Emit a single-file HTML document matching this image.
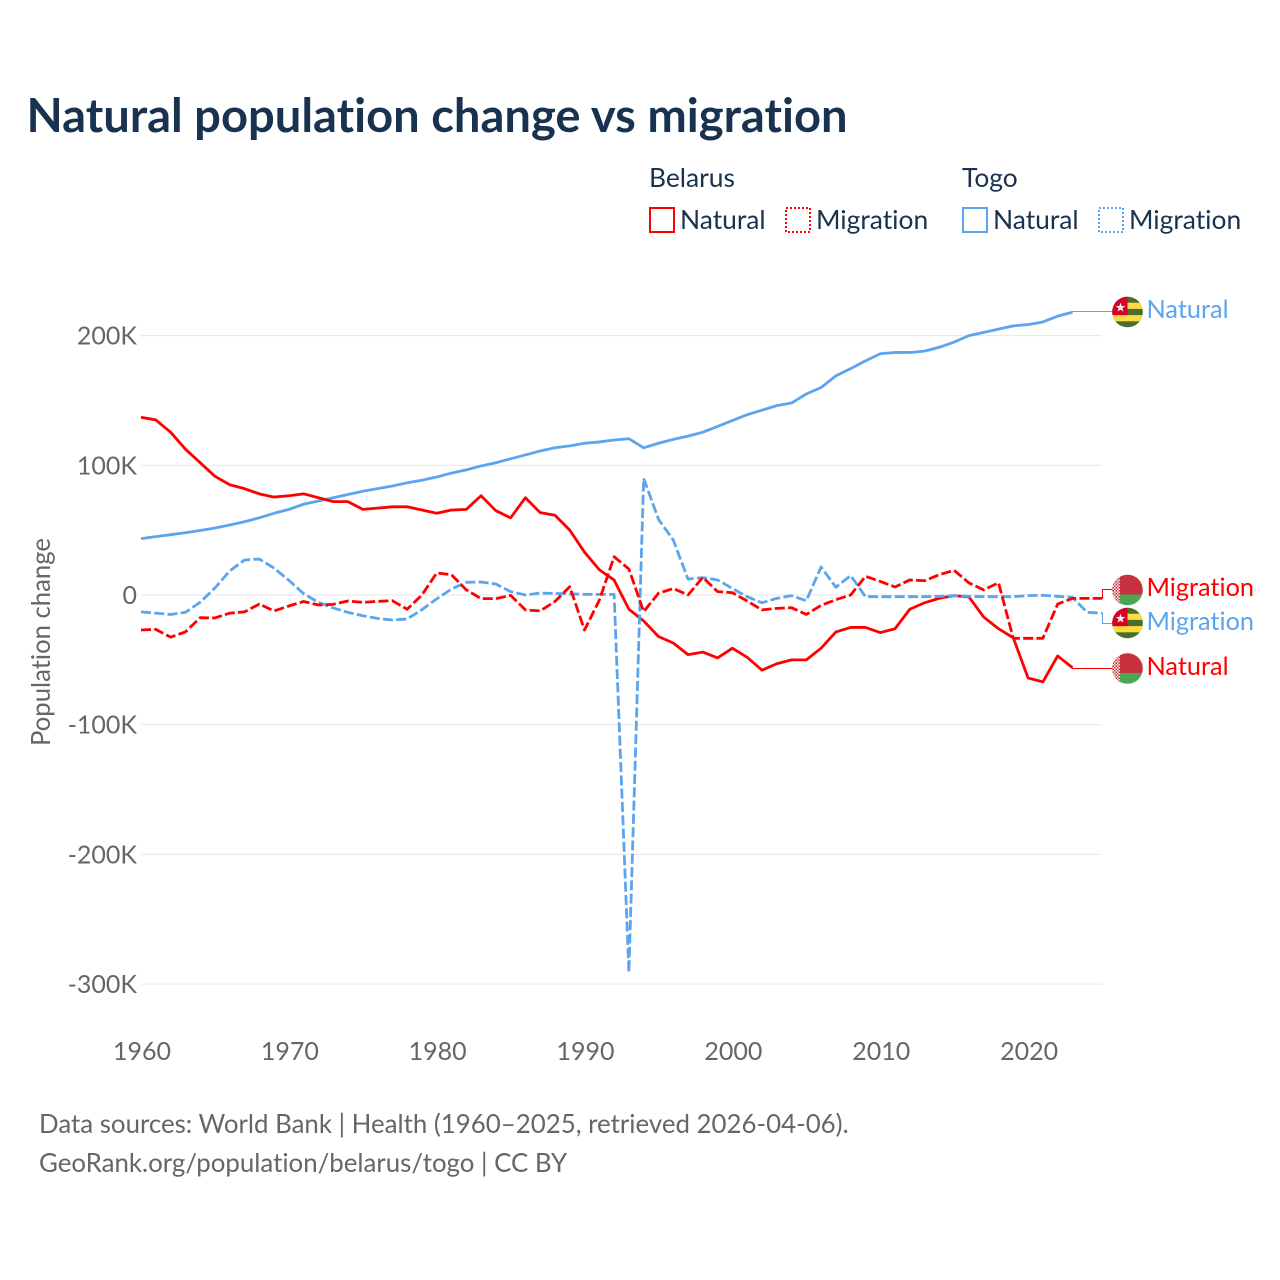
<!DOCTYPE html>
<html lang="en">
<head>
<meta charset="utf-8">
<title>Natural population change vs migration</title>
<style>
html,body{margin:0;padding:0;background:#fff;width:1280px;height:1280px;overflow:hidden}
svg{display:block}
text{font-family:"Lato","Liberation Sans",sans-serif;font-variant-ligatures:none;font-feature-settings:"liga" 0,"clig" 0}
</style>
</head>
<body>
<svg id="chart" xmlns="http://www.w3.org/2000/svg" width="1280" height="1280" viewBox="0 0 1280 1280">
<defs>
<clipPath id="flag-clip"><circle cx="0" cy="0" r="15.3"/></clipPath>
<pattern id="ornament" width="3" height="3" patternUnits="userSpaceOnUse">
<rect width="3" height="3" fill="#f3dfe0"/>
<rect x="0" y="0" width="1.5" height="1.5" fill="#c7313d"/>
<rect x="1.5" y="1.5" width="1.5" height="1.5" fill="#d5636c"/>
</pattern>
<g id="flag-belarus">
<g clip-path="url(#flag-clip)">
<rect x="-16" y="-16" width="32" height="20.5" fill="#c7313d"/>
<rect x="-16" y="4.5" width="32" height="11.5" fill="#4ca657"/>
<rect x="-16" y="-16" width="8.5" height="32" fill="url(#ornament)"/>
</g>
</g>
<g id="flag-togo">
<g clip-path="url(#flag-clip)">
<rect x="-16" y="-16" width="32" height="32" fill="#496e2d"/>
<rect x="-16" y="-9.3" width="32" height="6.2" fill="#ffda44"/>
<rect x="-16" y="3.1" width="32" height="6.2" fill="#ffda44"/>
<rect x="-16" y="-16" width="16" height="19.1" fill="#d80027"/>
<polygon points="-7,-9.5 -5.8,-6 -2.2,-6 -5.1,-3.8 -4,-0.4 -7,-2.4 -10,-0.4 -8.9,-3.8 -11.8,-6 -8.2,-6" fill="#f0f0f0"/>
</g>
</g>
</defs>

<text x="26.5" y="132" font-size="47.12" font-weight="700" fill="#18324f">Natural population change vs migration</text>

<g font-size="26.4" fill="#18324f">
<text x="649" y="187">Belarus</text>
<text x="962" y="187">Togo</text>
<rect x="650" y="208" width="24" height="24" fill="none" stroke="#ff0000" stroke-width="2"/>
<text x="680" y="229">Natural</text>
<rect x="786" y="208" width="24" height="24" fill="none" stroke="#ff0000" stroke-width="2" stroke-dasharray="2 2"/>
<text x="816" y="229">Migration</text>
<rect x="963" y="208" width="24" height="24" fill="none" stroke="#5ba4ee" stroke-width="2"/>
<text x="993" y="229">Natural</text>
<rect x="1099" y="208" width="24" height="24" fill="none" stroke="#5ba4ee" stroke-width="2" stroke-dasharray="2 2"/>
<text x="1129" y="229">Migration</text>
</g>

<g id="grid"></g>
<g id="y-ticks"></g>
<g id="x-ticks"></g>
<text transform="translate(50,746) rotate(-90)" font-size="25.7" fill="#666666">Population change</text>
<g id="connectors"></g>
<g id="series"></g>

<use href="#flag-togo" x="1127.5" y="312"/>
<use href="#flag-belarus" x="1127.5" y="590"/>
<use href="#flag-togo" x="1127.5" y="623"/>
<use href="#flag-belarus" x="1127.5" y="668.5"/>

<g font-size="25.3">
<text x="1146.5" y="318" fill="#5ba4ee">Natural</text>
<text x="1146.5" y="596" fill="#ff0000">Migration</text>
<text x="1146.5" y="630" fill="#5ba4ee">Migration</text>
<text x="1146.5" y="675" fill="#ff0000">Natural</text>
</g>

<g font-size="25.85" fill="#666666">
<text x="39" y="1133">Data sources: World Bank | Health (1960–2025, retrieved 2026-04-06).</text>
<text x="39" y="1172">GeoRank.org/population/belarus/togo | CC BY</text>
</g>
</svg>

<script>
const years = [1960,1961,1962,1963,1964,1965,1966,1967,1968,1969,1970,1971,1972,1973,1974,1975,1976,1977,1978,1979,1980,1981,1982,1983,1984,1985,1986,1987,1988,1989,1990,1991,1992,1993,1994,1995,1996,1997,1998,1999,2000,2001,2002,2003,2004,2005,2006,2007,2008,2009,2010,2011,2012,2013,2014,2015,2016,2017,2018,2019,2020,2021,2022,2023,2024,2025];
const yTickValues = [200000,100000,0,-100000,-200000,-300000];
const yTickLabels = ["200K","100K","0","-100K","-200K","-300K"];
const xTickValues = [1960,1970,1980,1990,2000,2010,2020];
const belarusNatural = [137,135,125.5,112.5,102,91.5,85,82,78,75.5,76.5,78,75,72,72,66,67,68,68,65.5,63,65.5,66,76.5,65,59.5,75,63.5,61.5,50,33,19.5,11.5,-11,-20,-32,-37,-46,-44,-48.5,-41,-48,-58,-53,-50,-50,-41,-28.5,-25,-25,-29,-26,-11,-6,-2.5,-0.5,-1.5,-17,-26,-33,-64,-67,-47,-56];
const belarusMigration = [-27,-26.5,-32.5,-28.5,-17.5,-17.7,-14,-13,-7,-12.3,-8.5,-5,-7.7,-7.2,-4.6,-5.7,-4.9,-4.4,-11,0,17,15.6,4,-2.8,-2.8,-0.3,-11.5,-12.3,-5,6.4,-27,-4,29.5,20,-12.8,1.3,5,0,13.6,2.6,1.8,-4.6,-11.5,-10.3,-9.8,-15,-8,-3.6,0,14.4,10.5,6.2,11.6,11,15.7,19,9.3,3.9,9.5,-33.4,-33.4,-33.4,-7,-2.6,-2.6,-2.6];
const togoNatural = [43.5,45,46.5,48,49.7,51.7,54,56.5,59.5,63,66,70,72.5,75,77.5,80,82,84,86.5,88.5,91,94,96.5,99.5,102,105,108,111,113.5,115,117,118,119.5,120.5,113.5,117,120,122.5,125.5,130,134.5,139,142.5,146,148,155,160,169,174.5,180.5,186,187,187,188,191,195,200,202.5,205,207.5,208.5,210.5,215,218];
const togoMigration = [-13,-14,-15,-13.4,-5.6,5.4,18.5,27,27.7,20.8,11.3,1,-5.6,-10,-13.4,-16,-18,-19.3,-18.5,-11.3,-3,4.6,9.8,10,8.5,2.6,0,1.5,1.2,0.8,0.5,0.5,0.5,-291,90,58.4,42.4,12.3,13.4,11.6,5,-1.3,-6,-2.6,-0.5,-4.4,21.6,6,15,-1.3,-1.3,-1.3,-1.3,-1.3,-1,-0.5,-1,-1.3,-1.3,-1.3,-0.5,-0.2,-1,-1.8,-13.4,-14];

const NS = 'http://www.w3.org/2000/svg';
const RED = '#ff0000';
const BLUE = '#5ba4ee';
const xScale = function (year) { return 141 + (year - 1960) * (961 / 65); };
const yScale = function (value) { return 595 - value * (129.7 / 100000); };
const grid = document.getElementById('grid');
const yTicks = document.getElementById('y-ticks');
const xTicks = document.getElementById('x-ticks');
const seriesLayer = document.getElementById('series');
const connectorLayer = document.getElementById('connectors');

yTickValues.forEach(function (value, i) {
  const line = document.createElementNS(NS, 'line');
  
  
  line.setAttribute('x1', 141);
  line.setAttribute('x2', 1102);
  line.setAttribute('y1', yScale(value));
  line.setAttribute('y2', yScale(value));
  line.setAttribute('stroke', '#e7e7e7');
  line.setAttribute('stroke-width', 1);
  grid.appendChild(line);
  const label = document.createElementNS(NS, 'text');
  
  
  label.setAttribute('x', 137);
  label.setAttribute('y', yScale(value) + 9);
  label.setAttribute('text-anchor', 'end');
  label.setAttribute('font-size', 25);
  label.setAttribute('fill', '#666666');
  label.textContent = yTickLabels[i];
  yTicks.appendChild(label);
});

xTickValues.forEach(function (year) {
  const label = document.createElementNS(NS, 'text');
  
  
  label.setAttribute('x', xScale(year) + 1);
  label.setAttribute('y', 1060);
  label.setAttribute('text-anchor', 'middle');
  label.setAttribute('font-size', 25);
  label.setAttribute('fill', '#666666');
  label.textContent = String(year);
  xTicks.appendChild(label);
});

function drawSeries(values, color, dashed, seriesName) {
  const points = values.map(function (value, i) {
    return xScale(years[i]).toFixed(2) + ',' + yScale(value * 1000).toFixed(2);
  }).join(' ');
  const line = document.createElementNS(NS, 'polyline');
  
  
  line.setAttribute('points', points);
  line.setAttribute('fill', 'none');
  line.setAttribute('stroke', color);
  line.setAttribute('stroke-width', 2.8);
  line.setAttribute('stroke-linejoin', 'round');
  if (dashed) {
    line.setAttribute('stroke-dasharray', '10 3.3');
  }
  seriesLayer.appendChild(line);
}

function drawConnector(values, color, labelY, connectorName) {
  const last = values.length - 1;
  const startX = xScale(years[last]);
  const startY = yScale(values[last] * 1000);
  const midX = startX < 1100 ? startX : 1102.5;
  const path = document.createElementNS(NS, 'path');
  
  
  path.setAttribute('d', 'M' + startX + ',' + startY + ' L' + midX + ',' + startY + ' L' + midX + ',' + labelY + ' L1113,' + labelY);
  path.setAttribute('fill', 'none');
  path.setAttribute('stroke', color);
  path.setAttribute('stroke-width', 1);
  connectorLayer.appendChild(path);
}

drawConnector(togoNatural, BLUE, 311.5, 'connector-togo-natural');
drawConnector(belarusMigration, RED, 589.5, 'connector-belarus-migration');
drawConnector(togoMigration, BLUE, 623.5, 'connector-togo-migration');
drawConnector(belarusNatural, RED, 668.5, 'connector-belarus-natural');

drawSeries(togoNatural, BLUE, false, 'line-togo-natural');
drawSeries(belarusNatural, RED, false, 'line-belarus-natural');
drawSeries(togoMigration, BLUE, true, 'line-togo-migration');
drawSeries(belarusMigration, RED, true, 'line-belarus-migration');
</script>
</body>
</html>
